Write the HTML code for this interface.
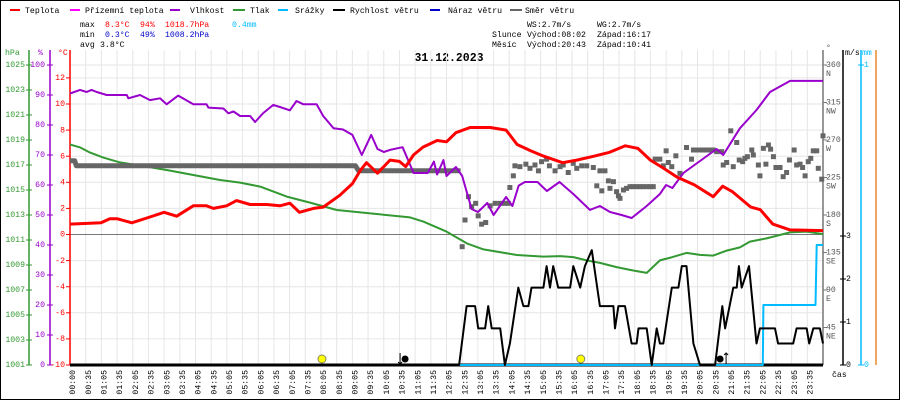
<!DOCTYPE html>
<html><head><meta charset="utf-8"><style>
html,body{margin:0;padding:0;background:#fff}
svg{display:block;font-family:"Liberation Mono",monospace;font-size:8.2px}
</style></head><body>
<svg id="chart" width="900" height="400" viewBox="0 0 900 400" xmlns="http://www.w3.org/2000/svg">
<rect x="0.5" y="0.5" width="899" height="399" fill="#fff" stroke="#000"/>
<g>
<g><rect x="10" y="9" width="10" height="2" fill="#f00"/><text x="25" y="13">Teplota</text></g>
<g><rect x="70" y="9" width="10" height="2" fill="#f0f"/><text x="85" y="13">Přízemní teplota</text></g>
<g><rect x="170" y="9" width="10" height="2" fill="#90c"/><text x="190" y="13">Vlhkost</text></g>
<g><rect x="233" y="9" width="12" height="2" fill="#393"/><text x="250" y="13">Tlak</text></g>
<g><rect x="278" y="9" width="10" height="2" fill="#0bf"/><text x="295" y="13">Srážky</text></g>
<g><rect x="333" y="9" width="12" height="2" fill="#000"/><text x="350" y="13">Rychlost větru</text></g>
<g><rect x="430" y="9" width="10" height="2" fill="#00c"/><text x="448" y="13">Náraz větru</text></g>
<g><rect x="510" y="9" width="12" height="2" fill="#666"/><text x="525" y="13">Směr větru</text></g>
</g>
<g>
<text x="80" y="27">max</text><text x="105" y="27" fill="#f00">8.3°C</text><text x="140" y="27" fill="#f00">94%</text><text x="165" y="27" fill="#f00">1018.7hPa</text><text x="232" y="27" fill="#0bf">0.4mm</text>
<text x="80" y="37">min</text><text x="105" y="37" fill="#00c">0.3°C</text><text x="140" y="37" fill="#00c">49%</text><text x="165" y="37" fill="#00c">1008.2hPa</text>
<text x="80" y="47">avg</text><text x="100" y="47">3.8°C</text>
<text x="527" y="27">WS:2.7m/s</text><text x="597" y="27">WG:2.7m/s</text>
<text x="492" y="37">Slunce</text><text x="527" y="37">Východ:08:02</text><text x="597" y="37">Západ:16:17</text>
<text x="492" y="47">Měsíc</text><text x="527" y="47">Východ:20:43</text><text x="597" y="47">Západ:10:41</text>
</g>
<text x="449" y="61" text-anchor="middle" font-weight="bold" font-size="11.5px">31.12.2023</text>
<g id="grid"></g>
<g id="axes"></g>
<g id="series"></g>
</svg>
<script>
const tempTimes=[0,0.99,1.27,1.51,1.97,2.5,3.0,3.4,3.93,4.35,4.57,4.99,5.31,5.74,6.27,6.69,7.01,7.31,7.76,8.07,8.6,9.0,9.25,9.45,9.8,10.2,10.5,10.7,10.95,11.25,11.7,12.0,12.3,12.75,13.4,13.9,14.25,14.7,15.1,15.7,16.15,16.7,17.2,17.7,18.1,18.5,18.9,19.35,19.9,20.5,20.8,21.1,21.7,22.0,22.4,22.95,24];
const tempValues=[0.8,0.9,1.2,1.2,0.9,1.3,1.7,1.4,2.2,2.2,2.0,2.2,2.6,2.3,2.3,2.2,2.4,1.7,2.0,2.1,3.0,3.9,4.9,5.5,4.7,5.7,5.6,5.2,6.1,6.7,7.2,7.1,7.8,8.2,8.2,8.0,6.9,6.4,6.0,5.5,5.7,6.0,6.3,6.8,6.6,5.7,5.1,4.4,3.8,2.9,3.7,3.3,2.1,1.9,0.8,0.35,0.3];
const humTimes=[0,0.32,0.53,0.69,0.85,1.17,1.81,1.86,2.23,2.55,2.87,3.08,3.45,3.93,4.35,4.41,4.89,5.05,5.21,5.42,5.74,5.9,6.16,6.48,6.69,7.01,7.22,7.44,7.86,8.07,8.4,8.7,9.0,9.3,9.6,9.8,10.0,10.2,10.6,10.95,11.4,11.6,11.7,11.9,12.0,12.3,12.5,12.8,13.0,13.3,13.5,13.9,14.1,14.3,14.5,14.9,15.2,15.6,16.04,16.57,16.89,17.21,17.58,17.9,18.38,18.8,19.0,19.2,19.55,20.08,20.61,20.82,21.35,21.88,22.31,22.95,24];
const humValues=[90.5,91.7,91,91.7,91,90,90,88.9,90,88.3,88.9,86.9,89.8,86.9,86.9,85.8,85.5,83.9,84.5,83,83,81,84,86.7,86,84.9,88,86.9,86.9,83,78.9,78.5,76.7,70,76.7,72,71,71.7,72.6,64,64,67.8,63.5,68.3,63,66,63,52,51,54,50,56,53,59.8,61,61,58,61,57,51.7,53,51,50,49,53,57,60,59,64,68,72,70,78.9,85,91,94.7,94.7];
const presTimes=[0,0.32,0.64,1.06,1.59,2.44,3.19,3.93,4.78,5.42,6.06,6.91,7.65,8.5,9.77,10.84,11.26,12.0,12.65,13.18,14.24,15.09,15.62,16.04,16.47,16.89,17.42,17.85,18.38,18.8,19.2,19.65,20.08,20.5,20.93,21.35,21.67,22.2,22.95,23.48,24];
const presValues=[1018.65,1018.41,1017.99,1017.59,1017.21,1016.87,1016.55,1016.2,1015.8,1015.59,1015.27,1014.47,1013.99,1013.4,1013.08,1012.81,1012.47,1011.67,1010.73,1010.25,1009.8,1009.67,1009.71,1009.63,1009.37,1009.17,1008.83,1008.61,1008.37,1009.37,1009.63,1009.97,1009.81,1009.75,1010.15,1010.41,1010.87,1011.13,1011.61,1011.67,1011.47];
const windTimes=[0,12.4,12.64,12.91,13.01,13.23,13.33,13.44,13.71,13.86,14.02,14.29,14.45,14.61,14.71,15.09,15.19,15.3,15.4,15.56,15.94,16.04,16.26,16.41,16.63,16.89,17.32,17.37,17.48,17.69,17.9,18.06,18.12,18.38,18.54,18.7,18.8,18.91,19.18,19.39,19.5,19.65,19.87,20.08,20.56,20.79,20.88,21.14,21.25,21.32,21.41,21.64,21.88,21.99,22.47,22.57,23.05,23.16,23.48,23.56,23.69,23.9,24];
const windValues=[0,0,1.37,1.37,0.85,0.85,1.37,0.85,0.85,0,0.5,1.8,1.37,1.37,1.8,1.8,2.3,1.8,2.3,1.8,1.8,2.3,1.8,2.3,2.67,1.37,1.37,0.85,1.37,1.37,0.5,0.5,0.85,0.85,0,0.85,0.5,0.5,1.8,1.8,2.3,2.3,0.5,0,0,1.37,0.85,1.8,1.8,2.3,1.8,2.3,0.5,0.85,0.85,0.5,0.5,0.85,0.85,0.5,0.85,0.85,0.5];
const rainTimes=[0,22.08,22.1,23.76,23.8,24];
const rainValues=[0,0,0.2,0.2,0.4,0.4];
const dirLineTimes=[0,0.15,0.2,9.1,9.2,12.45];
const dirLineValues=[245,245,239,239,233,233];
const dirTimes=[12.5,12.59,12.7,12.8,12.93,13.01,13.12,13.25,13.39,13.55,13.71,13.86,13.97,14.02,14.13,14.18,14.34,14.53,14.66,14.82,14.93,15.03,15.19,15.28,15.46,15.62,15.72,15.88,16.04,16.15,16.31,16.47,16.68,16.79,16.89,16.95,17.05,17.16,17.21,17.32,17.42,17.48,17.53,17.64,17.74,17.85,17.96,18.06,18.17,18.27,18.38,18.49,18.59,18.65,18.8,18.91,19.0,19.07,19.18,19.31,19.44,19.65,19.81,19.87,19.97,20.08,20.19,20.29,20.4,20.5,20.61,20.77,20.82,20.93,21.06,21.14,21.25,21.33,21.44,21.51,21.59,21.73,21.78,21.94,21.99,22.1,22.18,22.26,22.33,22.42,22.5,22.63,22.73,22.84,22.93,23.08,23.16,23.27,23.35,23.43,23.53,23.61,23.69,23.8,23.85,23.96,24.0];
const dirValues=[142,174,202,190,194,179,169,171,191,194,194,194,194,213,227,239,238,241,236,240,233,244,247,239,233,238,240,231,242,236,239,239,237,215,233,209,233,221,212,220,208,203,200,210,212,214,214,214,214,214,214,214,214,247,247,239,257,243,238,251,230,261,247,258,258,258,258,258,258,258,256,256,240,243,281,238,267,246,244,248,250,258,252,240,227,260,241,264,259,250,237,237,226,231,246,258,240,241,237,227,244,248,257,257,236,223,275];
const tempTicks=[12,10,8,6,4,2,0,-2,-4,-6,-8,-10];
const humTicks=[100,90,80,70,60,50,40,30,20,10,0];
const presTicks=[1025,1023,1021,1019,1017,1015,1013,1011,1009,1007,1005,1003,1001];
const dirTicks=[360,315,270,225,180,135,90,45];
const dirNames=["N","NW","W","SW","S","SE","E","NE"];
const windTicks=[0,1,2,3];
const rainTicks=[0,1];

const NS="http://www.w3.org/2000/svg";
const X=h=>70+h*31.375;
const TY=t=>234.5-t*13.05;
const HY=v=>365-3*v;
const PY=p=>365-(p-1001)*12.5;
const DY=d=>365-d*300/360;
const WY=v=>365-v*43;
const RY=m=>365-m*300;
function mk(tag,attrs,parent){const e=document.createElementNS(NS,tag);for(const k in attrs)e.setAttribute(k,attrs[k]);parent.appendChild(e);return e;}
const grid=document.getElementById('grid'),axes=document.getElementById('axes'),series=document.getElementById('series');

// grid
for(let i=0;i<48;i++){const x=70+i*15.6875;const l=mk('line',{x1:x,y1:50,x2:x,y2:365,stroke:'#e6e6e6','stroke-width':1},grid);

}
tempTicks.forEach(t=>{const l=mk('line',{x1:70,y1:TY(t),x2:823,y2:TY(t),stroke:'#e6e6e6','stroke-width':1},grid);

});
{const l=mk('line',{x1:70,y1:65,x2:823,y2:65,stroke:'#e6e6e6'},grid);

}
{const l=mk('line',{x1:70,y1:TY(0),x2:823,y2:TY(0),stroke:'#777','stroke-width':1},grid);

}

// axes
function vaxis(x,color,name){const l=mk('line',{x1:x,y1:50,x2:x,y2:365,stroke:color,'stroke-width':1.5},axes);

}
vaxis(29,'#393','pressure-axis');vaxis(50,'#90c','humidity-axis');vaxis(70,'#f00','temperature-axis');
vaxis(823,'#777','direction-axis');vaxis(843,'#000','wind-speed-axis');vaxis(861,'#0bf','rain-axis');vaxis(876,'#e88a2e','extra-axis');
function lab(x,y,txt,color,anchor,name){const t=mk('text',{x:x,y:y,fill:color,'text-anchor':anchor,'dominant-baseline':'middle'},axes);t.textContent=txt;

return t;}
presTicks.forEach(p=>{mk('line',{x1:26,y1:PY(p),x2:32,y2:PY(p),stroke:'#393'},axes);lab(25,PY(p),String(p),'#393','end','pressure-tick-label');});
humTicks.forEach(h=>{mk('line',{x1:47,y1:HY(h),x2:53,y2:HY(h),stroke:'#90c'},axes);lab(45,HY(h),String(h),'#90c','end','humidity-tick-label');});
tempTicks.forEach(t=>{mk('line',{x1:66,y1:TY(t),x2:70,y2:TY(t),stroke:'#f00'},axes);lab(65,TY(t),String(t),'#f00','end','temperature-tick-label');});
dirTicks.forEach((d,i)=>{mk('line',{x1:823,y1:DY(d),x2:827,y2:DY(d),stroke:'#777'},axes);lab(826,DY(d),String(d),'#555','start','direction-tick-label');lab(826,DY(d)+9,dirNames[i],'#555','start','direction-name-label');});
windTicks.forEach(v=>{mk('line',{x1:840,y1:WY(v),x2:846,y2:WY(v),stroke:'#000'},axes);lab(846,WY(v),String(v),'#000','start','wind-tick-label');});
rainTicks.forEach(m=>{mk('line',{x1:858,y1:RY(m),x2:864,y2:RY(m),stroke:'#0bf'},axes);lab(864,RY(m),String(m),'#0bf','start','rain-tick-label');});
lab(5,53,'hPa','#393','start','pressure-unit');lab(38,53,'%','#90c','start','humidity-unit');lab(58,53,'°C','#f00','start','temperature-unit');
lab(826,48,'°','#555','start','direction-unit');lab(845,53,'m/s','#000','start','wind-unit');lab(862,53,'mm','#0bf','start','rain-unit');
lab(832,375,'čas','#000','start','time-axis-title');
for(let i=0;i<48;i++){const x=70+i*15.6875+3;let txt;if(i===0)txt='00:00';else{const hh=Math.floor(i/2);txt=String(hh).padStart(2,'0')+(i%2?':35':':05');}
const t=mk('text',{x:0,y:0,'text-anchor':'end','dominant-baseline':'middle',transform:`translate(${x},370) rotate(-90)`},axes);t.textContent=txt;

}

// series
function line(times,vals,Y,color,w,name){const d=times.map((h,i)=>(i?'L':'M')+X(h).toFixed(1)+','+Y(vals[i]).toFixed(1)).join('');
const p=mk('path',{d:d,fill:'none',stroke:color,'stroke-width':w,'stroke-linejoin':'round'},series);

}
mk('line',{x1:70,y1:365,x2:823,y2:365,stroke:'#000','stroke-width':3},series);
line(rainTimes,rainValues,RY,'#0bf',2,'rain-line');
line(presTimes,presValues,PY,'#393',2,'pressure-line');
line(dirLineTimes,dirLineValues,DY,'#666',5,'wind-direction-line');
dirTimes.forEach((h,i)=>{const r=mk('rect',{x:X(h)-2.5,y:DY(dirValues[i])-2.5,width:5,height:5,fill:'#666'},series);

});
line(humTimes,humValues,HY,'#90c',2,'humidity-line');
line(tempTimes,tempValues,TY,'#f00',3,'temperature-line');
line(windTimes,windValues,WY,'#000',2,'wind-speed-line');
// sun/moon markers
const sun=[8.03,16.28],moon=[10.68,20.72];
sun.forEach(h=>{const c=mk('circle',{cx:X(h),cy:359,r:4,fill:'#ff0',stroke:'#886','stroke-width':1},series);

});
moon.forEach(h=>{const c=mk('circle',{cx:X(h),cy:359,r:3.5,fill:'#000'},series);

});
mk('path',{d:`M${X(10.68)-5},353 V364 M${X(10.68)-7},362 l2,2 l2,-2`,stroke:'#000',fill:'none','stroke-width':1},series);
mk('path',{d:`M${X(20.72)+6},364 V353 M${X(20.72)+4},355 l2,-2 l2,2`,stroke:'#000',fill:'none','stroke-width':1},series);
</script>
</body></html>
